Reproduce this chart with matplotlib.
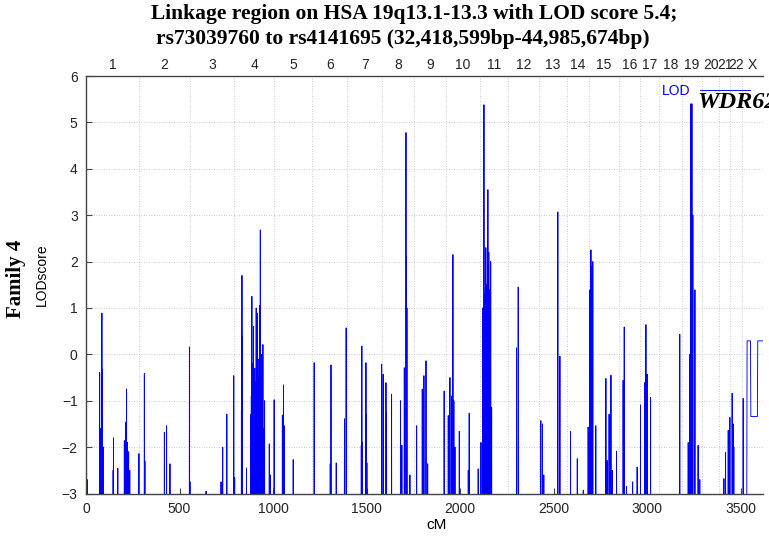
import matplotlib
matplotlib.use("Agg")
import matplotlib.pyplot as plt

# ---- genome layout (cumulative cM at the end of each chromosome) ----
chrom_names = [str(i) for i in range(1, 23)] + ["X"]
chrom_ends = [286, 554, 793, 1004, 1210, 1397, 1585, 1754, 1924, 2106, 2258,
              2424, 2570, 2690, 2850, 2960, 3065, 3185, 3295, 3385, 3445,
              3510, 3620]

# ---- LOD peaks along the genome (cM, LOD) ----
spike_cm = [0, 3, 6, 73, 78, 85, 88, 92, 145, 147, 170, 205, 212, 217, 222,
            228, 234, 283,
            312, 315, 419, 431, 449, 553, 556,
            642, 722, 731, 753, 790, 795,
            831, 834, 836, 858, 880, 884, 887, 890, 893, 896, 899, 902, 906,
            910, 913, 917, 922, 925, 928, 932, 935, 938, 942, 946, 950, 955,
            980, 985,
            1006, 1050, 1056, 1060, 1108, 1220,
            1306, 1310, 1338, 1382, 1391,
            1472, 1475, 1478, 1497, 1499, 1502,
            1581, 1589, 1604, 1607, 1634, 1682, 1689, 1702, 1711, 1714, 1716,
            1732, 1768, 1798, 1807, 1818, 1827,
            1915, 1937, 1946, 1955, 1962, 1967, 1973, 1996,
            2044, 2049, 2097, 2112, 2122, 2128, 2133, 2138, 2143, 2149, 2154,
            2159, 2164, 2169,
            2302, 2311, 2313,
            2432, 2441, 2448, 2523, 2534, 2591, 2627,
            2659, 2685, 2694, 2700, 2705, 2710, 2726,
            2780, 2787, 2797, 2807, 2814, 2837, 2872, 2878, 2890, 2923,
            2947, 2965, 2988, 2994, 3001, 3019,
            3175, 3220, 3229, 3234, 3240, 3245, 3256, 3273, 3282,
            3411, 3420, 3434, 3443, 3455, 3460, 3464, 3514]
spike_lod = [-1.25, -2.4, -2.7, -0.39, -1.6, 0.89, -0.32, -2.0, -2.5, -1.8,
             -2.46, -1.86, -1.46, -0.75, -1.9, -2.1, -2.5, -2.14,
             -0.41, -2.3, -1.68, -1.54, -2.36, 0.16, -2.75,
             -2.95, -2.75, -2.0, -1.29, -0.46, -2.66,
             -1.2, 1.7, 0.39, -2.45, -1.3, -0.9, 1.25, -0.75, -0.2, 0.6, -1.1,
             -0.3, -0.6, 1.0, -0.4, 0.89, -0.5, -0.1, 1.05, 2.68, -0.8, 0.0,
             -1.4, 0.21, -1.6, -1.0,
             -1.93, -2.6,
             -0.98, -1.31, -0.66, -1.54, -2.27, -0.18,
             -2.36, -0.23, -2.34, -1.39, 0.57,
             -1.96, 0.18, -1.9, -0.18, -1.3, -2.34,
             -0.21, -0.43, -0.61, -1.25, -0.86, -1.0, -1.96, -0.29, 4.78, 2.1,
             1.0, -2.6, -1.54, -0.75, -0.46, -0.14, -2.36,
             -0.79, -1.32, -0.5, -0.9, 2.15, -1.0, -2.0, -1.66,
             -2.5, -1.27, -2.47, -1.9, 1.0, 5.38, 1.3, 2.3, 1.5, 3.55, 2.2,
             1.4, 2.0, -1.14,
             0.14, 1.45, -1.82,
             -1.43, -1.5, -2.6, 3.07, -0.04, -1.66, -2.25,
             -2.93, -1.57, 1.39, 2.25, 1.9, 2.0, -1.54,
             -0.52, -2.29, -1.29, -0.45, -2.5, -2.09, -0.56, 0.59, -2.85, -2.75,
             -2.43, -1.09, -0.61, 0.64, -0.43, -0.93,
             0.43, -1.9, 0.0, 5.4, 5.4, 3.0, 1.39, -1.96, -2.7,
             -2.68, -2.11, -1.64, -1.36, -0.84, -1.5, -2.0, -0.95]

# end of the X chromosome: stepped stretch
xtail_cm = [3533, 3535, 3553, 3555, 3590, 3592, 3640]
xtail_lod = [-3.5, 0.29, 0.29, -1.34, -1.34, 0.29, 0.29]

FLOOR = -3.5  # below the visible range

# trace: every peak rises from and falls back to the floor
trace_x, trace_y = [], []
for c, v in sorted(zip(spike_cm, spike_lod)):
    trace_x += [c - 0.6, c, c + 0.6]
    trace_y += [FLOOR, v, FLOOR]
trace_x += xtail_cm
trace_y += xtail_lod

W, H = 769, 539
fig = plt.figure(figsize=(W / 100, H / 100), dpi=100)
ax = fig.add_axes([86 / W, 1 - 493.5 / H, (763 - 86) / W, (493.5 - 76) / H])

ax.plot(trace_x, trace_y, color="#0000ff", lw=0.65, label="LOD")

ax.set_xlim(0, 3620)
ax.set_ylim(-3, 6)
ax.set_xticks([0, 500, 1000, 1500, 2000, 2500, 3000, 3500])
ax.set_yticks(range(-3, 7))

sans = "Liberation Sans"
serif = "Liberation Serif"
for lab in ax.get_xticklabels() + ax.get_yticklabels():
    lab.set_family(sans)
ax.tick_params(axis="both", direction="in", labelsize=10, colors="#444444",
               length=4, width=0.8, top=True, pad=6, labelcolor="#222222")
for s in ax.spines.values():
    s.set_color("#444444")
    s.set_linewidth(1.0)
ax.spines["right"].set_visible(False)

# grid: LOD levels and chromosome boundaries
for yv in range(-2, 6):
    ax.axhline(yv, color="#bbbbbb", lw=0.6, ls=(0, (1, 2)), zorder=0)
for b in chrom_ends[:-1]:
    ax.axvline(b, color="#bbbbbb", lw=0.6, ls=(0, (1, 2)), zorder=0)

ax.set_xlabel("cM", fontsize=11, family=sans)
ax.xaxis.set_label_coords((437 - 86) / 677, (493.5 - 518) / 417.5)
ax.set_ylabel("LODscore", fontsize=10, family=sans)
ax.yaxis.set_label_coords((49 - 86) / 677, (493.5 - 275) / 417.5)

# chromosome names along the top
starts = [0] + chrom_ends[:-1]
centers = [(a + b) / 2 for a, b in zip(starts, chrom_ends)]
top = ax.twiny()
top.set_xlim(ax.get_xlim())
top.set_xticks(centers)
top.set_xticklabels(chrom_names, family=sans, fontsize=10, color="#222222")
top.tick_params(axis="x", length=0, pad=3)
for s in top.spines.values():
    s.set_visible(False)

fig.text(414 / W, 1 - 14 / H, "Linkage region on HSA 19q13.1-13.3 with LOD score 5.4;",
         ha="center", va="center", family=serif, fontweight="bold", fontsize=15.5)
fig.text(403 / W, 1 - 39 / H, "rs73039760 to rs4141695 (32,418,599bp-44,985,674bp)",
         ha="center", va="center", family=serif, fontweight="bold", fontsize=15.5)

fig.text(16 / W, 1 - 279 / H, "Family 4", rotation=90, ha="center", va="center",
         family=serif, fontweight="bold", fontsize=15)

ax.legend(loc="center right", bbox_to_anchor=(757 / W, 1 - 91 / H),
          bbox_transform=fig.transFigure, frameon=False, markerfirst=False,
          handlelength=3.6, handletextpad=0.7, borderpad=0,
          prop={"family": sans, "size": 10}, labelcolor="#0000ff")

fig.text(697 / W, 1 - 103 / H, "WDR62", ha="left", va="center", family=serif,
         fontweight="bold", fontstyle="italic", fontsize=17.5)

fig.savefig("out.png", dpi=100)
